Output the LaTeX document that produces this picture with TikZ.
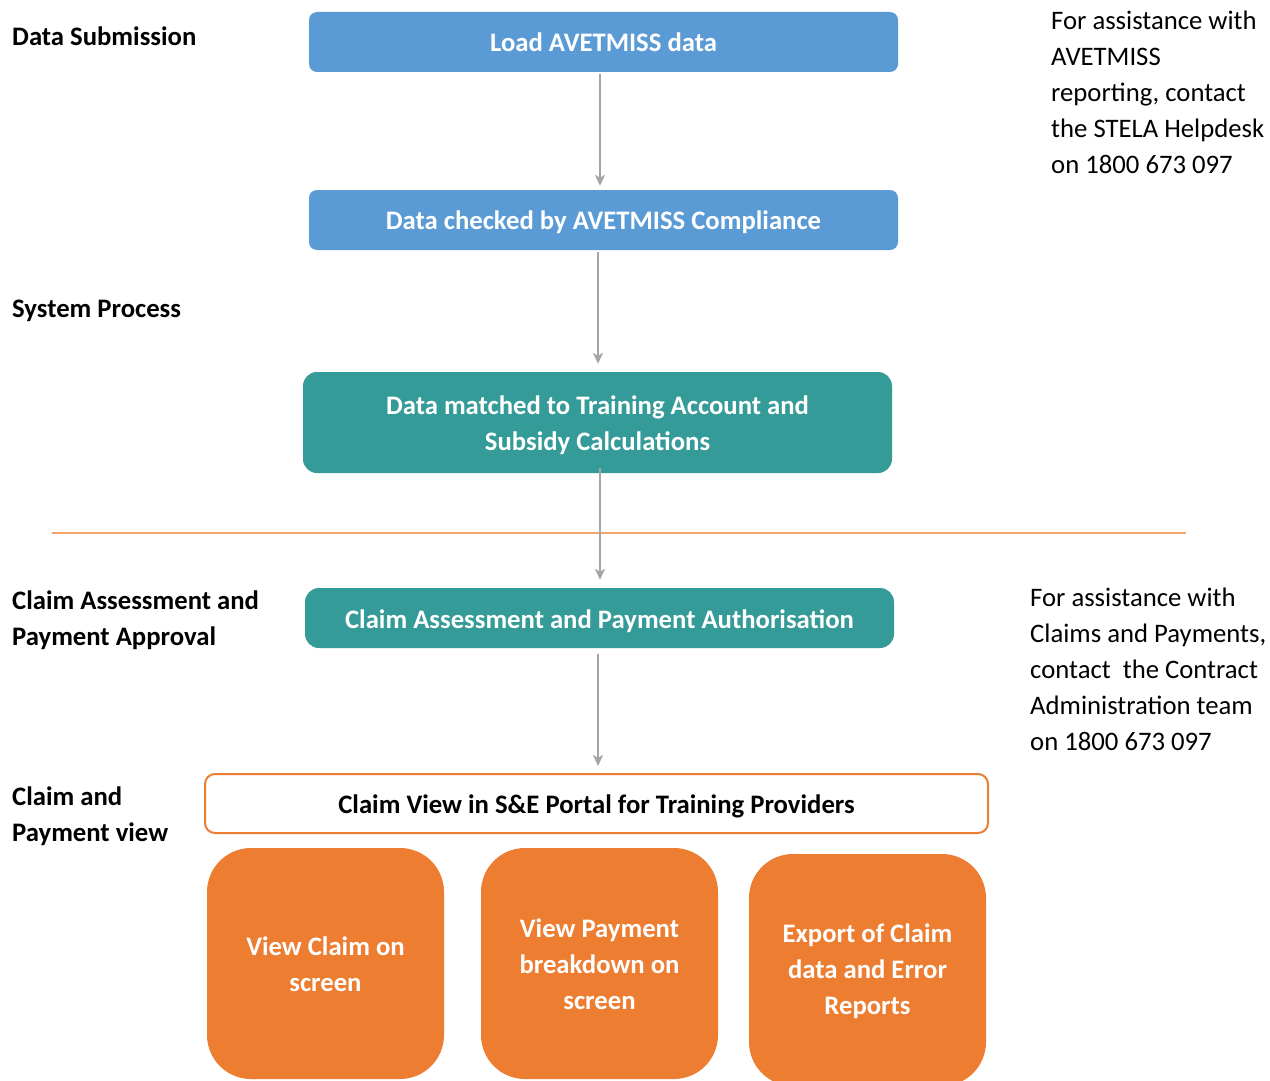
\documentclass[tikz,border=0pt]{standalone}
\usepackage{fontspec}
\setmainfont{Carlito}
\usetikzlibrary{arrows.meta}
\definecolor{cblue}{HTML}{5B9BD5}
\definecolor{cteal}{HTML}{349B98}
\definecolor{corange}{HTML}{ED7D31}
\definecolor{cline}{HTML}{F4A46A}
\definecolor{cgray}{HTML}{A5A5A5}
\tikzset{
  box/.style={inner sep=0pt, align=center, text=white, font=\fontsize{26.7}{36}\selectfont\bfseries},
  btext/.style={box, fill=none},
  bluebox/.style={box, fill=cblue, rounded corners=8pt, minimum width=589pt, minimum height=60pt},
  tealbox/.style={box, fill=cteal, rounded corners=14pt, minimum width=589pt},
  portal/.style={box, text=black, draw=corange, line width=2pt, fill=white, rounded corners=10pt, minimum width=783pt, minimum height=59pt},
  orbox/.style={box, fill=corange, rounded corners=44pt, minimum width=237pt},
  lab/.style={inner sep=0pt, anchor=west, align=left, font=\fontsize{26.7}{36}\selectfont\bfseries},
  note/.style={inner sep=0pt, anchor=west, align=left, font=\fontsize{26.7}{36}\selectfont},
  flow/.style={draw=cgray, line width=2pt, -{Stealth[length=11pt,width=10pt,inset=3pt]}}
}
\begin{document}
\begin{tikzpicture}[x=1pt,y=-1pt]
\useasboundingbox (0,0) rectangle (1270,1081);
\fill[white] (0,0) rectangle (1270,1081);
% separator line
\draw[cline, line width=2pt] (52,533) -- (1186,533);
% boxes
\node[bluebox] (b1) at (603.5,42) {Load AVETMISS data};
\node[bluebox] (b2) at (603.5,220) {};
\node[btext] (t2) at ([yshift=-2pt]b2.center) {Data checked by AVETMISS Compliance};
\node[tealbox, minimum height=101pt] (b3) at (597.5,422.5) {};
\node[btext] (t3) at ([yshift=-3pt]b3.center) {Data matched to Training Account and\\Subsidy Calculations};
\node[tealbox, minimum height=60pt] (b4) at (599.5,618) {};
\node[btext] (t4) at ([yshift=-3pt]b4.center) {Claim Assessment and Payment Authorisation};
\node[portal] (b5) at (596.5,803.5) {};
\node[btext, text=black] (t5) at ([yshift=-3pt]b5.center) {Claim View in S\&E Portal for Training Providers};
\node[orbox, minimum height=231pt] (b6) at (325.5,963.5) {};
\node[btext] (t6) at ([yshift=-1pt]b6.center) {View Claim on\\screen};
\node[orbox, minimum height=231pt] (b7) at (599.5,963.5) {};
\node[btext] (t7) at ([yshift=-1pt]b7.center) {View Payment\\breakdown on\\screen};
\node[orbox, minimum height=232pt] (b8) at (867.5,970) {};
\node[btext] (t8) at ([yshift=-1.5pt]b8.center) {Export of Claim\\data and Error\\Reports};
% arrows
\draw[flow, shorten <=2pt, shorten >=4pt] ([xshift=-3.5pt]b1.south) -- ([xshift=-3.5pt]b2.north);
\draw[flow, shorten <=2pt, shorten >=8pt] ([xshift=-5.5pt]b2.south) -- ([xshift=0.5pt]b3.north);
\draw[flow, shorten <=-5pt, shorten >=8pt] ([xshift=2.5pt]b3.south) -- ([xshift=0.5pt]b4.north);
\draw[flow, shorten <=6pt, shorten >=7pt] ([xshift=-1.5pt]b4.south) -- ([xshift=1.5pt]b5.north);
% left labels
\node[lab] (l1) at (12,36) {Data Submission};
\node[lab] (l2) at (12,311) {System Process};
\node[lab] (l3) at (12,620.5) {Claim Assessment and\\Payment Approval};
\node[lab] (l4) at (12,816.5) {Claim and\\Payment view};
% notes
\node[note] (n1) at (1051,92) {For assistance with\\AVETMISS\\reporting, contact\\the STELA Helpdesk\\on 1800 673 097};
\node[note] (n2) at (1030,669.5) {For assistance with\\Claims and Payments,\\contact\ \ the Contract\\Administration team\\on 1800 673 097};
\end{tikzpicture}
\end{document}
